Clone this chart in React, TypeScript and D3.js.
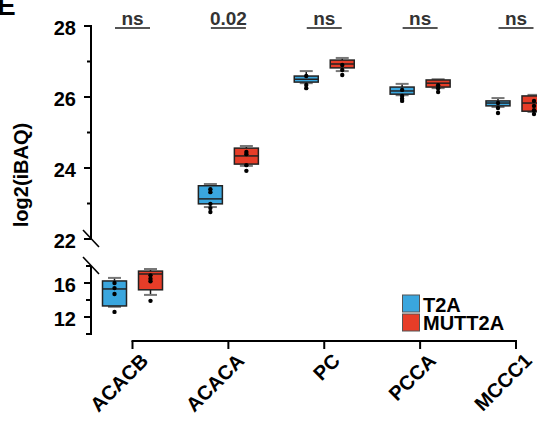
import React from "react";
import * as d3 from "d3";

const categories = ["ACACB", "ACACA", "PC", "PCCA", "MCCC1"];
const seriesNames = ["T2A", "MUTT2A"];
const seriesColors = ["#3aa6de", "#e63d28"];
const sigLabels = ["ns", "0.02", "ns", "ns", "ns"];

// [whiskerLow, q1, median, q3, whiskerHigh]
const t2aStats = [
  [13.2, 13.3, 15.3, 16.24, 16.6],
  [22.9, 22.99, 23.13, 23.5, 23.55],
  [26.39, 26.42, 26.5, 26.59, 26.73],
  [26.05, 26.08, 26.17, 26.28, 26.37],
  [25.72, 25.75, 25.83, 25.89, 25.97],
];
const muttStats = [
  [14.6, 15.2, 17.06, 17.4, 17.65],
  [24.06, 24.11, 24.34, 24.56, 24.62],
  [26.73, 26.82, 26.93, 27.04, 27.1],
  [26.25, 26.28, 26.39, 26.48, 26.5],
  [25.58, 25.6, 25.83, 26.03, 26.06],
];
const t2aPoints = [
  [16.0, 15.4, 14.7, 12.6],
  [23.4, 23.32, 22.99, 22.87, 22.76],
  [26.59, 26.34, 26.25],
  [26.2, 26.03, 25.95, 25.89],
  [25.83, 25.69, 25.55],
];
const muttPoints = [
  [16.9, 16.5, 16.2, 13.9],
  [24.45, 24.39, 24.08, 23.92],
  [26.9, 26.76, 26.62],
  [26.33, 26.25, 26.14],
  [25.89, 25.75, 25.63, 25.52],
];

const upperMajor = [22, 24, 26, 28];
const upperMinor = [23, 25, 27];
const lowerMajor = [12, 16];
const lowerMinor = [10, 14, 18];

const W = 537;
const H = 421;
const FONT = "'Liberation Sans', Arial, Helvetica, sans-serif";

export default function App() {
  const x = d3.scalePoint<string>().domain(categories).range([132.5, 516]);
  const sub = d3.scalePoint<string>().domain(seriesNames).range([-18, 18]);
  const yU = d3.scaleLinear().domain([22, 28]).range([239, 26]);
  const yL = d3.scaleLinear().domain([10, 18]).range([334, 266]);
  const y = (v: number) => (v >= 20 ? yU(v) : yL(v));
  const axisX = 91;
  const boxW = 24;
  const xAxisY = 341;

  const allStats = [t2aStats, muttStats];
  const allPoints = [t2aPoints, muttPoints];

  return (
    <div style={{ position: "absolute", left: 0, top: 0 }}>
      <svg width={W} height={H} style={{ display: "block", background: "#fff" }} fontFamily={FONT}>
        {/* panel letter */}
        <text x={-3} y={15} fontSize={28} fontWeight="bold">E</text>

        {/* y title */}
        <text transform={`translate(28,175) rotate(-90)`} textAnchor="middle" fontSize={20} fontWeight="bold">
          log2(iBAQ)
        </text>

        {/* y axis */}
        <g stroke="#000" strokeWidth={2}>
          <line x1={axisX} x2={axisX} y1={yU(28) - 1} y2={yU(22)} />
          <line x1={axisX} x2={axisX} y1={yL(18)} y2={yL(10) + 1} />
          {upperMajor.map((t) => (
            <line key={"um" + t} x1={axisX - 7} x2={axisX} y1={yU(t)} y2={yU(t)} />
          ))}
          {upperMinor.map((t) => (
            <line key={"un" + t} x1={axisX - 4} x2={axisX} y1={yU(t)} y2={yU(t)} />
          ))}
          {lowerMajor.map((t) => (
            <line key={"lm" + t} x1={axisX - 7} x2={axisX} y1={yL(t)} y2={yL(t)} />
          ))}
          {lowerMinor.map((t) => (
            <line key={"ln" + t} x1={axisX - 5} x2={axisX} y1={yL(t)} y2={yL(t)} />
          ))}
        </g>
        {/* break marks */}
        <g stroke="#000" strokeWidth={1.6}>
          <line x1={axisX - 8} x2={axisX + 8} y1={yU(22) - 9} y2={yU(22) + 8} />
          <line x1={axisX - 8} x2={axisX + 8} y1={yL(18) - 9} y2={yL(18) + 8} />
        </g>
        {upperMajor.map((t) => (
          <text key={"ut" + t} x={76} y={yU(t)} dy={8.5} textAnchor="end" fontSize={20} fontWeight="bold">
            {t}
          </text>
        ))}
        {lowerMajor.map((t) => (
          <text key={"lt" + t} x={76} y={yL(t)} dy={8.5} textAnchor="end" fontSize={20} fontWeight="bold">
            {t}
          </text>
        ))}

        {/* x axis */}
        <g stroke="#000" strokeWidth={2}>
          <line x1={x(categories[0])! - 1} x2={x(categories[categories.length - 1])! + 1} y1={xAxisY} y2={xAxisY} />
          {categories.map((c) => (
            <line key={"xt" + c} x1={x(c)} x2={x(c)} y1={xAxisY} y2={xAxisY + 8} />
          ))}
        </g>
        {categories.map((c) => (
          <text
            key={"xl" + c}
            transform={`translate(${x(c)! + 17},362) rotate(-45)`}
            textAnchor="end"
            fontSize={20}
            fontWeight="bold"
          >
            {c}
          </text>
        ))}

        {/* significance */}
        {categories.map((c, i) => (
          <g key={"sig" + c}>
            <text x={x(c)} y={25} textAnchor="middle" fontSize={19} fontWeight="bold" fill="#333">
              {sigLabels[i]}
            </text>
            <line x1={x(c)! - 17.5} x2={x(c)! + 17.5} y1={28} y2={28} stroke="#555" strokeWidth={2} />
          </g>
        ))}

        {/* boxes */}
        {seriesNames.map((s, si) => (
          <g key={s}>
            {categories.map((c, ci) => {
              const [lo, q1, med, q3, hi] = allStats[si][ci];
              const cx = x(c)! + sub(s)!;
              return (
                <g key={c}>
                  <line x1={cx} x2={cx} y1={y(lo)} y2={y(q1)} stroke="#111" strokeWidth={1.5} />
                  <line x1={cx} x2={cx} y1={y(q3)} y2={y(hi)} stroke="#111" strokeWidth={1.5} />
                  <line x1={cx - 6.5} x2={cx + 6.5} y1={y(lo)} y2={y(lo)} stroke="#777" strokeWidth={2} />
                  <line x1={cx - 6.5} x2={cx + 6.5} y1={y(hi)} y2={y(hi)} stroke="#777" strokeWidth={2} />
                  <rect
                    x={cx - boxW / 2}
                    y={y(q3)}
                    width={boxW}
                    height={Math.max(1, y(q1) - y(q3))}
                    fill={seriesColors[si]}
                    stroke="#222"
                    strokeWidth={1.5}
                  />
                  <line x1={cx - boxW / 2} x2={cx + boxW / 2} y1={y(med)} y2={y(med)} stroke="#222" strokeWidth={1.5} />
                  {allPoints[si][ci].map((p, pi) => (
                    <circle key={pi} cx={cx} cy={y(p)} r={2.2} fill="#000" />
                  ))}
                </g>
              );
            })}
          </g>
        ))}

        {/* legend */}
        {seriesNames.map((s, i) => (
          <g key={"lg" + s}>
            <rect x={402.5} y={295 + i * 19} width={17} height={17} fill={seriesColors[i]} stroke="#555" strokeWidth={1} />
            <text x={423} y={312 + i * 18} fontSize={20} fontWeight="bold">
              {s}
            </text>
          </g>
        ))}
      </svg>
    </div>
  );
}
